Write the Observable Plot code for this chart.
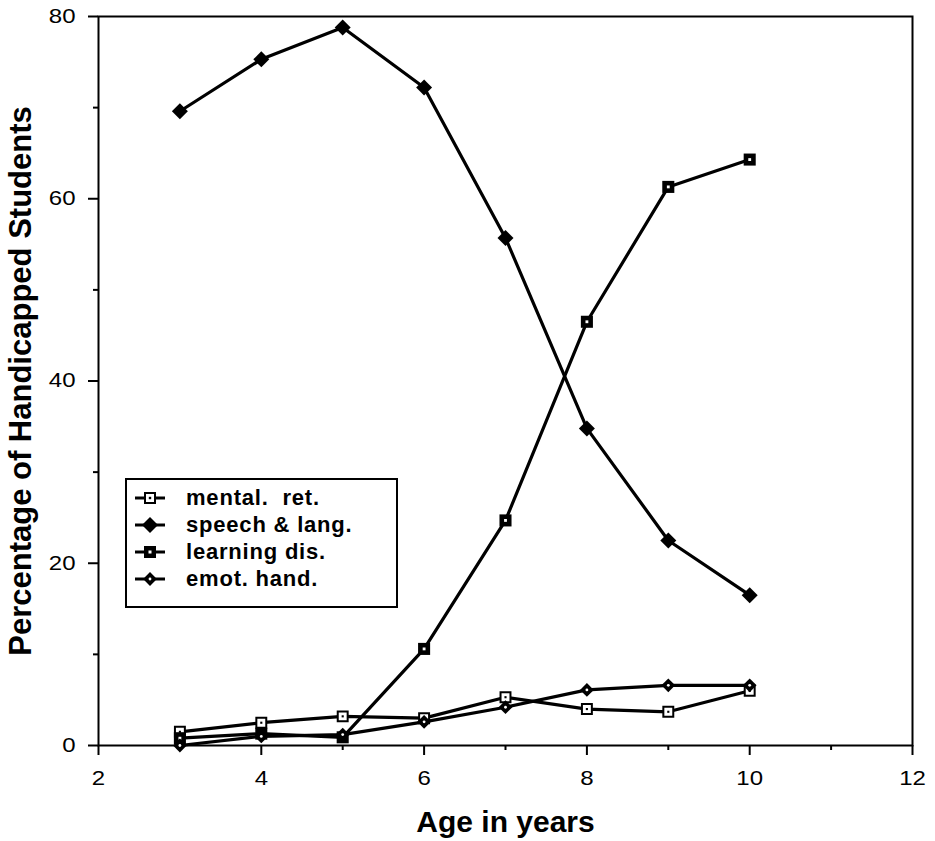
<!DOCTYPE html>
<html>
<head>
<meta charset="utf-8">
<script src="https://cdn.jsdelivr.net/npm/d3@7"></script>
<script src="https://cdn.jsdelivr.net/npm/@observablehq/plot@0.6"></script>
<style>
  html, body { margin: 0; padding: 0; background: #fff; }
  #wrap { position: relative; width: 935px; height: 841px; font-family: "Liberation Sans", Arial, sans-serif; }
  #legend { position: absolute; left: 125px; top: 478px; width: 269px; height: 126px; border: 2px solid #000; background: #fff; }
  .row { position: absolute; left: 0; height: 26px; display: flex; align-items: center; }
  .row svg { margin-left: 7px; }
  .row span { margin-left: 20px; font-weight: bold; font-size: 22px; letter-spacing: 0.8px; color: #000; white-space: pre; }
</style>
</head>
<body>
<div id="wrap"></div>
<script>
const ages = [3, 4, 5, 6, 7, 8, 9, 10];
const mentalRet = [1.5, 2.5, 3.2, 3.0, 5.3, 4.0, 3.7, 6.0];
const speechLang = [69.6, 75.3, 78.8, 72.2, 55.7, 34.8, 22.5, 16.5];
const learningDis = [0.8, 1.3, 0.9, 10.6, 24.7, 46.5, 61.3, 64.3];
const emotHand = [0.0, 1.0, 1.2, 2.6, 4.2, 6.1, 6.6, 6.6];
const seriesNames = ["mental.  ret.", "speech & lang.", "learning dis.", "emot. hand."];
const xTicks = [2, 4, 6, 8, 10, 12];
const xMinorTicks = [3, 5, 7, 9, 11];
const yTicks = [0, 20, 40, 60, 80];
const yMinorTicks = [10, 30, 50, 70];
const xLabel = "Age in years";
const yLabel = "Percentage of Handicapped Students";

const seriesValues = [mentalRet, speechLang, learningDis, emotHand];
const data = [];
seriesNames.forEach((name, i) => ages.forEach((a, j) => data.push({series: name, age: a, value: seriesValues[i][j]})));
const of = (i) => data.filter(d => d.series === seriesNames[i]);

const chart = Plot.plot({
  width: 935,
  height: 841,
  marginLeft: 98,
  marginRight: 23,
  marginTop: 16,
  marginBottom: 96,
  style: { fontFamily: "Liberation Sans, Arial, sans-serif", background: "#fff", color: "#000" },
  x: { domain: [2, 12] },
  y: { domain: [0, 80] },
  marks: [
    Plot.axisX(xTicks, { tickSize: 10, tickPadding: 15, fontSize: 20, strokeWidth: 2, label: null }),
    Plot.axisX(xMinorTicks, { tickSize: 5, strokeWidth: 2, tickFormat: () => "", label: null }),
    Plot.axisY(yTicks, { tickSize: 10, tickPadding: 13, fontSize: 20, strokeWidth: 2, label: null }),
    Plot.axisY(yMinorTicks, { tickSize: 5, strokeWidth: 2, tickFormat: () => "", label: null }),
    Plot.axisX([], { label: xLabel, labelAnchor: "center", labelArrow: "none", labelOffset: 86, fontSize: 30, fontWeight: "bold" }),
    Plot.axisY([], { label: yLabel, labelAnchor: "center", labelArrow: "none", labelOffset: 90, fontSize: 31, fontWeight: "bold" }),
    Plot.frame({ strokeWidth: 2 }),
    Plot.line(data, { x: "age", y: "value", z: "series", stroke: "#000", strokeWidth: 3.2, strokeLinejoin: "round" }),
    // mental ret: hollow square with dot
    Plot.dot(of(0), { x: "age", y: "value", symbol: "square", r: 5.6, fill: "#fff", stroke: "#000", strokeWidth: 2 }),
    Plot.dot(of(0), { x: "age", y: "value", symbol: "square", r: 1.2, fill: "#000" }),
    // speech: filled diamond
    Plot.dot(of(1), { x: "age", y: "value", symbol: "diamond2", r: 7.2, fill: "#000" }),
    // learning dis: filled square with white centre
    Plot.dot(of(2), { x: "age", y: "value", symbol: "square", r: 6.8, fill: "#000" }),
    Plot.dot(of(2), { x: "age", y: "value", symbol: "square", r: 1.6, fill: "#fff" }),
    // emot hand: diamond with white centre
    Plot.dot(of(3), { x: "age", y: "value", symbol: "diamond2", r: 6.2, fill: "#000" }),
    Plot.dot(of(3), { x: "age", y: "value", symbol: "circle", r: 1.4, fill: "#fff" })
  ]
});

// widen the tick-label glyphs a little, as in the reference
d3.select(chart).selectAll('g[aria-label="x-axis tick label"] text, g[aria-label="y-axis tick label"] text')
  .attr("transform", function () { return (this.getAttribute("transform") || "") + " scale(1.2,1)"; });

const wrap = document.getElementById("wrap");
wrap.appendChild(chart);

// legend
const legend = document.createElement("div");
legend.id = "legend";
wrap.appendChild(legend);
const symbolDrawers = [
  (g) => { g.append("rect").attr("x", -5).attr("y", -5).attr("width", 10).attr("height", 10).attr("fill", "#fff").attr("stroke", "#000").attr("stroke-width", 2);
           g.append("rect").attr("x", -1.2).attr("y", -1.2).attr("width", 2.4).attr("height", 2.4).attr("fill", "#000"); },
  (g) => { g.append("path").attr("d", d3.symbol(d3.symbolDiamond2, Math.PI * 7.2 * 7.2)()).attr("fill", "#000"); },
  (g) => { g.append("rect").attr("x", -6).attr("y", -6).attr("width", 12).attr("height", 12).attr("fill", "#000");
           g.append("rect").attr("x", -1.5).attr("y", -1.5).attr("width", 3).attr("height", 3).attr("fill", "#fff"); },
  (g) => { g.append("path").attr("d", d3.symbol(d3.symbolDiamond2, Math.PI * 6.2 * 6.2)()).attr("fill", "#000");
           g.append("circle").attr("r", 1.4).attr("fill", "#fff"); }
];
seriesNames.forEach((name, i) => {
  const row = document.createElement("div");
  row.className = "row";
  row.style.top = (5 + i * 27) + "px";
  legend.appendChild(row);
  const svg = d3.select(row).append("svg").attr("width", 32).attr("height", 26);
  svg.append("line").attr("x1", 1).attr("x2", 31).attr("y1", 13).attr("y2", 13).attr("stroke", "#000").attr("stroke-width", 3);
  symbolDrawers[i](svg.append("g").attr("transform", "translate(16,13)"));
  const span = document.createElement("span");
  span.textContent = name;
  row.appendChild(span);
});
</script>
</body>
</html>
